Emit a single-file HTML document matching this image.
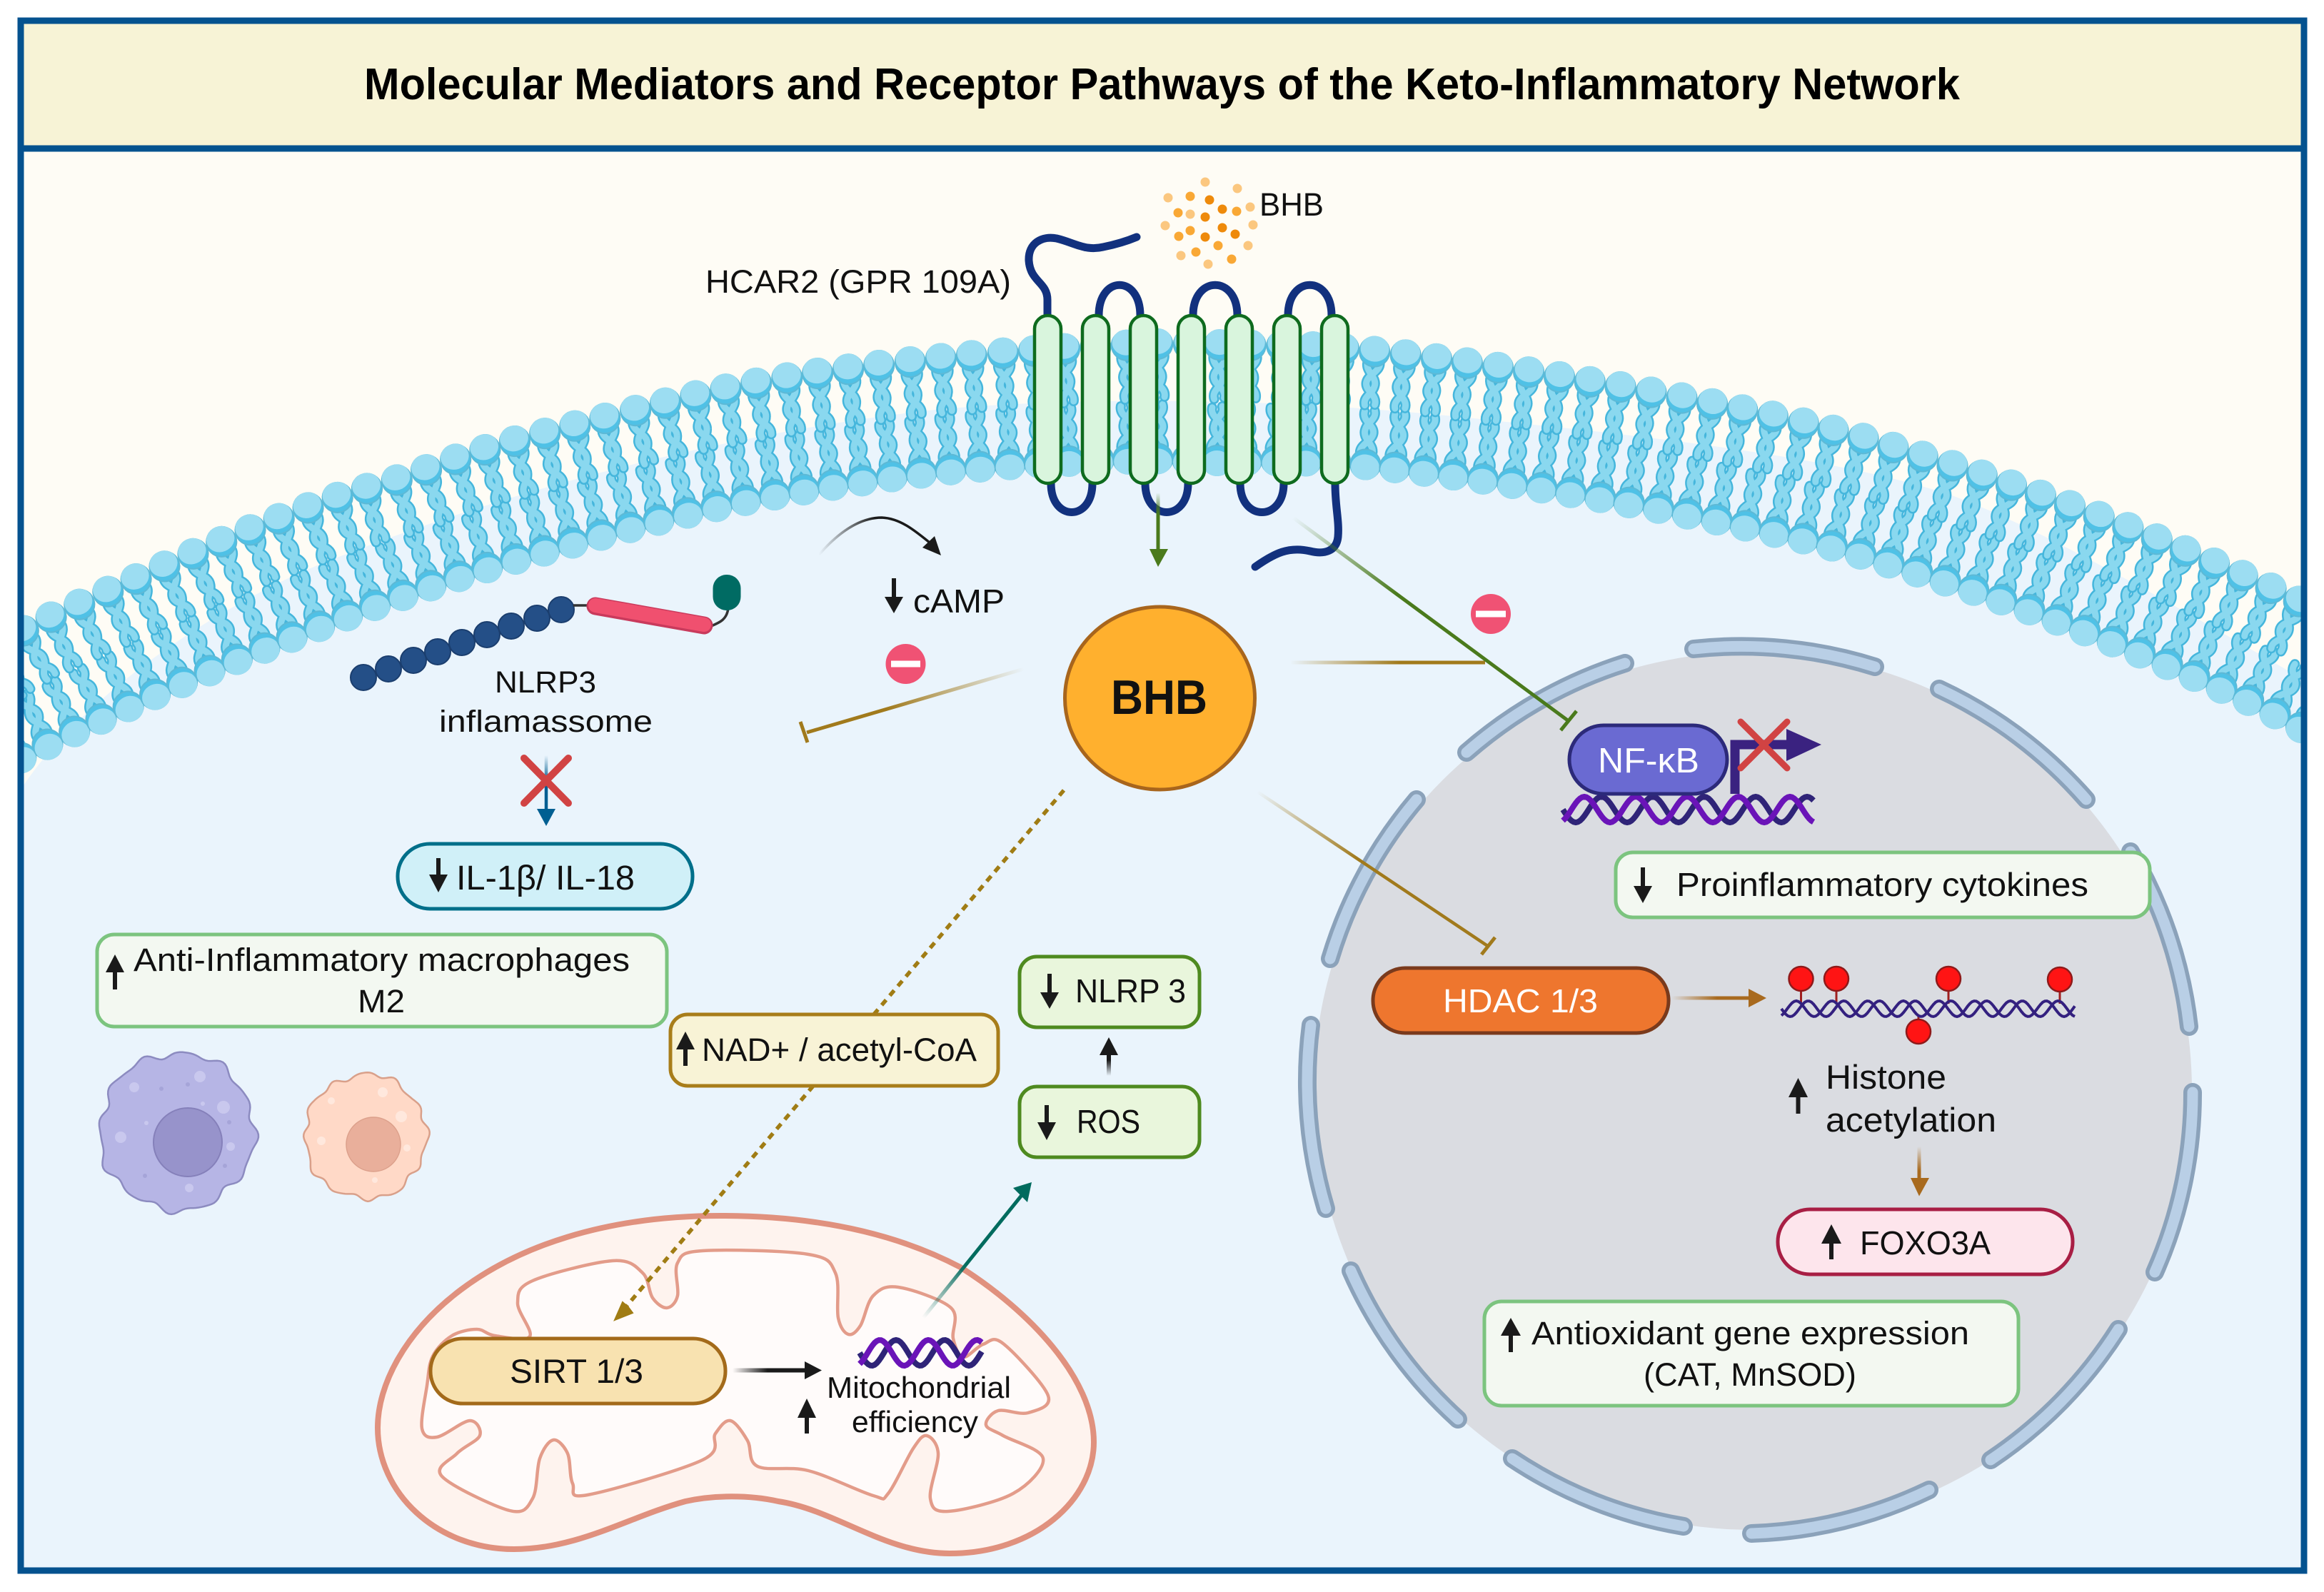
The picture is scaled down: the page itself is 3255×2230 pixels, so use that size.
<!DOCTYPE html>
<html lang="en">
<head>
<meta charset="utf-8">
<title>Molecular Mediators and Receptor Pathways of the Keto-Inflammatory Network</title>
<style>
html,body{margin:0;padding:0;background:#fff}
svg{display:block}
text{font-family:"Liberation Sans",sans-serif;fill:#111}
</style>
</head>
<body>
<svg xmlns="http://www.w3.org/2000/svg" width="3255" height="2230" viewBox="0 0 3255 2230">
<defs>
<clipPath id="frame"><rect x="33" y="210" width="3190" height="1986"/></clipPath>
<linearGradient id="g1" gradientUnits="userSpaceOnUse" x1="1434" y1="937" x2="1240" y2="993"><stop offset="0" stop-color="#A17A1C" stop-opacity="0"/><stop offset="1" stop-color="#A17A1C"/></linearGradient>
<linearGradient id="g2" gradientUnits="userSpaceOnUse" x1="1807" y1="928" x2="1960" y2="928"><stop offset="0" stop-color="#A17A1C" stop-opacity="0"/><stop offset="1" stop-color="#A17A1C"/></linearGradient>
<linearGradient id="g3" gradientUnits="userSpaceOnUse" x1="1761" y1="1109" x2="1900" y2="1205"><stop offset="0" stop-color="#A17A1C" stop-opacity="0"/><stop offset="1" stop-color="#A17A1C"/></linearGradient>
<linearGradient id="g4" gradientUnits="userSpaceOnUse" x1="1811" y1="725" x2="1950" y2="840"><stop offset="0" stop-color="#4A7A1C" stop-opacity="0"/><stop offset="1" stop-color="#4A7A1C"/></linearGradient>
<linearGradient id="g5" gradientUnits="userSpaceOnUse" x1="1293" y1="1846" x2="1345" y2="1765"><stop offset="0" stop-color="#006B5E" stop-opacity="0"/><stop offset="1" stop-color="#006B5E"/></linearGradient>
<linearGradient id="g6" gradientUnits="userSpaceOnUse" x1="1026" y1="0" x2="1075" y2="0"><stop offset="0" stop-color="#1a1a1a" stop-opacity="0"/><stop offset="1" stop-color="#1a1a1a"/></linearGradient>
<linearGradient id="g7" gradientUnits="userSpaceOnUse" x1="2341" y1="0" x2="2405" y2="0"><stop offset="0" stop-color="#A86A1E" stop-opacity="0"/><stop offset="1" stop-color="#A86A1E"/></linearGradient>
<linearGradient id="g8" gradientUnits="userSpaceOnUse" x1="0" y1="1606" x2="0" y2="1640"><stop offset="0" stop-color="#A86A1E" stop-opacity="0"/><stop offset="1" stop-color="#A86A1E"/></linearGradient>
<linearGradient id="g9" gradientUnits="userSpaceOnUse" x1="0" y1="690" x2="0" y2="720"><stop offset="0" stop-color="#4A7A1C" stop-opacity="0"/><stop offset="1" stop-color="#4A7A1C"/></linearGradient>
<linearGradient id="g10" gradientUnits="userSpaceOnUse" x1="0" y1="1058" x2="0" y2="1095"><stop offset="0" stop-color="#005F92" stop-opacity="0"/><stop offset="1" stop-color="#005F92"/></linearGradient>
<linearGradient id="g11" gradientUnits="userSpaceOnUse" x1="1147" y1="0" x2="1225" y2="0"><stop offset="0" stop-color="#1a1a1a" stop-opacity="0"/><stop offset="1" stop-color="#1a1a1a"/></linearGradient>
<linearGradient id="g12" gradientUnits="userSpaceOnUse" x1="0" y1="1507" x2="0" y2="1485"><stop offset="0" stop-color="#1a1a1a" stop-opacity="0"/><stop offset="1" stop-color="#1a1a1a"/></linearGradient>
<g id="lipid">
  <path d="M-7 14C-14 30 8 36 5 50C3 62-10 66-6 78" fill="none" stroke="#45B6DC" stroke-width="14" stroke-linecap="round"/>
  <path d="M8 14C14 28-6 34-7 46C-8 58 11 62 8 76" fill="none" stroke="#45B6DC" stroke-width="14" stroke-linecap="round"/>
  <path d="M-7 14C-14 30 8 36 5 50C3 62-10 66-6 78" fill="none" stroke="#8AD8EF" stroke-width="9" stroke-linecap="round"/>
  <path d="M8 14C14 28-6 34-7 46C-8 58 11 62 8 76" fill="none" stroke="#8AD8EF" stroke-width="9" stroke-linecap="round"/>
  <circle cx="0" cy="2" r="21" fill="#4FC1E6" stroke="#5DB9D6" stroke-width="2"/>
  <ellipse cx="0" cy="-2" rx="20" ry="18" fill="#9CDDF2"/>
</g>
</defs>

<!-- frame backgrounds -->
<rect x="29" y="29" width="3198" height="2171" fill="#FEFCF5"/>
<path d="M33 1100C110 985 280 860 449 790C700 690 1000 610 1300 575C1500 555 1800 555 2100 590C2400 620 2600 650 2731 693C2850 735 3050 850 3223 950L3223 2196L33 2196Z" fill="#EAF4FC"/>
<rect x="29" y="29" width="3198" height="179" fill="#F7F3D6"/>

<!-- membrane -->
<g id="lipids" clip-path="url(#frame)"></g>

<!-- receptor -->
<g fill="none" stroke="#12317E" stroke-width="11" stroke-linecap="round">
  <path d="M1467 442V420C1467 395 1443 395 1441 365C1440 340 1460 330 1480 334C1505 340 1520 352 1545 346C1565 342 1580 337 1592 332"/>
  <path d="M1539 442C1539 385 1597 385 1597 442"/>
  <path d="M1671 442C1671 385 1733 385 1733 442"/>
  <path d="M1804 442C1804 385 1865 385 1865 442"/>
  <path d="M1472 677C1472 731 1530 731 1530 677"/>
  <path d="M1604 677C1604 731 1664 731 1664 677"/>
  <path d="M1737 677C1737 731 1798 731 1798 677"/>
  <path d="M1870 677C1870 710 1876 730 1874 752C1872 772 1855 777 1835 772C1805 765 1785 775 1758 794"/>
</g>
<g fill="#D9F5DD" stroke="#0E6B1E" stroke-width="4.5">
  <rect x="1449" y="442" width="37" height="235" rx="18.5"/>
  <rect x="1516" y="442" width="37" height="235" rx="18.5"/>
  <rect x="1583" y="442" width="37" height="235" rx="18.5"/>
  <rect x="1650" y="442" width="37" height="235" rx="18.5"/>
  <rect x="1717" y="442" width="37" height="235" rx="18.5"/>
  <rect x="1784" y="442" width="37" height="235" rx="18.5"/>
  <rect x="1851" y="442" width="37" height="235" rx="18.5"/>
</g>

<!-- BHB particles -->
<g fill="#FBC77F">
  <circle cx="1688" cy="255" r="6.5"/><circle cx="1733" cy="264" r="6.5"/><circle cx="1636" cy="277" r="6.5"/><circle cx="1751" cy="290" r="6.5"/><circle cx="1667" cy="300" r="6.5"/><circle cx="1632" cy="316" r="6.5"/><circle cx="1755" cy="315" r="6.5"/><circle cx="1748" cy="344" r="6.5"/><circle cx="1654" cy="358" r="6.5"/><circle cx="1692" cy="370" r="6.5"/>
</g>
<g fill="#F9A835">
  <circle cx="1667" cy="275" r="6.5"/><circle cx="1650" cy="298" r="6.5"/><circle cx="1732" cy="296" r="6.5"/><circle cx="1667" cy="323" r="6.5"/><circle cx="1651" cy="331" r="6.5"/><circle cx="1706" cy="344" r="6.5"/><circle cx="1675" cy="353" r="6.5"/><circle cx="1725" cy="363" r="6.5"/>
</g>
<g fill="#EE8A0B">
  <circle cx="1694" cy="280" r="6.5"/><circle cx="1712" cy="293" r="6.5"/><circle cx="1688" cy="304" r="6.5"/><circle cx="1712" cy="319" r="6.5"/><circle cx="1730" cy="328" r="6.5"/><circle cx="1688" cy="332" r="6.5"/>
</g>

<!-- green arrow from receptor -->
<path d="M1622 691V772" stroke="url(#g9)" stroke-width="5" fill="none"/>
<path d="M1610 769H1636L1622 794Z" fill="#4A7A1C"/>

<!-- curved arrow -->
<path d="M1147 777C1175 745 1205 725 1235 725C1260 726 1280 742 1302 760" fill="none" stroke="url(#g11)" stroke-width="3.5"/>
<path d="M1318 778L1292 767L1309 751Z" fill="#1a1a1a"/>

<!-- nucleus -->
<circle cx="2455" cy="1528" r="615" fill="#DADCE1"/>
<g fill="none" stroke="#8BA2BA" stroke-width="26" stroke-linecap="round">
  <path d="M2372 909A624 624 0 0 1 2626 934"/>
  <path d="M2716 965A622 622 0 0 1 2922 1120"/>
  <path d="M2984 1193A622 622 0 0 1 3066 1438"/>
  <path d="M3071 1530A618 618 0 0 1 3018 1782"/>
  <path d="M2967 1862A618 618 0 0 1 2788 2045"/>
  <path d="M2702 2087A620 620 0 0 1 2453 2148"/>
  <path d="M2358 2138A618 618 0 0 1 2118 2043"/>
  <path d="M2042 1988A618 618 0 0 1 1892 1780"/>
  <path d="M1857 1693A622 622 0 0 1 1836 1436"/>
  <path d="M1863 1343A622 622 0 0 1 1984 1120"/>
  <path d="M2054 1054A622 622 0 0 1 2276 929"/>
</g>
<g fill="none" stroke="#B9CFE6" stroke-width="15" stroke-linecap="round">
  <path d="M2372 909A624 624 0 0 1 2626 934"/>
  <path d="M2716 965A622 622 0 0 1 2922 1120"/>
  <path d="M2984 1193A622 622 0 0 1 3066 1438"/>
  <path d="M3071 1530A618 618 0 0 1 3018 1782"/>
  <path d="M2967 1862A618 618 0 0 1 2788 2045"/>
  <path d="M2702 2087A620 620 0 0 1 2453 2148"/>
  <path d="M2358 2138A618 618 0 0 1 2118 2043"/>
  <path d="M2042 1988A618 618 0 0 1 1892 1780"/>
  <path d="M1857 1693A622 622 0 0 1 1836 1436"/>
  <path d="M1863 1343A622 622 0 0 1 1984 1120"/>
  <path d="M2054 1054A622 622 0 0 1 2276 929"/>
</g>

<!-- inhibition lines -->
<path d="M1434 937L1130 1026" stroke="url(#g1)" stroke-width="5" fill="none"/>
<path d="M1121 1011L1131 1040" stroke="#A17A1C" stroke-width="5" fill="none"/>
<path d="M1807 928H2080" stroke="url(#g2)" stroke-width="5" fill="none"/>
<path d="M1761 1109L2085 1326" stroke="url(#g3)" stroke-width="4.5" fill="none"/>
<path d="M2075 1337L2094 1313" stroke="#A17A1C" stroke-width="5" fill="none"/>
<path d="M1811 725L2197 1010" stroke="url(#g4)" stroke-width="5" fill="none"/>
<path d="M2186 1023L2208 996" stroke="#4A7A1C" stroke-width="5" fill="none"/>

<!-- minus signs -->
<circle cx="1268.5" cy="930" r="28" fill="#F05274"/><rect x="1248" y="925.5" width="41" height="9" fill="#fff"/>
<circle cx="2088" cy="860" r="28" fill="#F05274"/><rect x="2067" y="855.5" width="42" height="9" fill="#fff"/>

<!-- NLRP3 protein -->
<g fill="#244F87" stroke="#1B3E6E" stroke-width="2">
  <circle cx="509" cy="949" r="18"/><circle cx="544" cy="937" r="18"/><circle cx="579" cy="925" r="18"/><circle cx="613" cy="913" r="18"/><circle cx="647" cy="900" r="18"/><circle cx="682" cy="889" r="18"/><circle cx="716" cy="877" r="18"/><circle cx="752" cy="866" r="18"/><circle cx="786" cy="854" r="18"/>
</g>
<path d="M803 848H828M996 877C1008 872 1018 868 1020 852" fill="none" stroke="#333" stroke-width="3.5"/>
<path d="M834 849L986 876" stroke="#C93A5C" stroke-width="25" stroke-linecap="round"/>
<path d="M834 848L986 875" stroke="#F0506F" stroke-width="20" stroke-linecap="round"/>
<rect x="998.500" y="805" width="39" height="50" rx="19" fill="#006B63"/>

<text x="693" y="970" font-size="43" textLength="142" lengthAdjust="spacingAndGlyphs">NLRP3</text>
<text x="615" y="1025" font-size="43" textLength="299" lengthAdjust="spacingAndGlyphs">inflamassome</text>

<!-- blocked arrow -->
<path d="M765 1058V1136" stroke="url(#g10)" stroke-width="4.5" fill="none"/>
<path d="M752 1133H778L765 1157Z" fill="#005F92"/>
<path d="M734 1062L796 1125M796 1062L734 1125" stroke="#D14343" stroke-width="10" stroke-linecap="round" fill="none"/>

<!-- IL pill -->
<rect x="557" y="1182" width="413" height="91" rx="45" fill="#D0F0F8" stroke="#006F8A" stroke-width="5"/>
<text x="639" y="1246" font-size="48" textLength="250" lengthAdjust="spacingAndGlyphs">IL-1β/ IL-18</text>

<!-- Anti-inflammatory -->
<rect x="136" y="1309" width="798" height="129" rx="24" fill="#F3F8F1" stroke="#7CC47F" stroke-width="5"/>
<text x="187" y="1360" font-size="45" textLength="695" lengthAdjust="spacingAndGlyphs">Anti-Inflammatory macrophages</text>
<text x="501" y="1418" font-size="45" textLength="66" lengthAdjust="spacingAndGlyphs">M2</text>

<!-- macrophages -->
<path id="blob1" fill="#B6B5E5" stroke="#8C8BC0" stroke-width="2.5"/>
<ellipse cx="263" cy="1600" rx="48" ry="48" fill="#9793CB" stroke="#8580BA" stroke-width="2"/>
<g fill="#C9C8EE">
  <circle cx="280" cy="1508" r="8"/><circle cx="188" cy="1523" r="7"/><circle cx="313" cy="1551" r="9"/><circle cx="169" cy="1593" r="8"/><circle cx="323" cy="1606" r="6"/><circle cx="265" cy="1664" r="6"/><circle cx="284" cy="1546" r="3"/><circle cx="205" cy="1573" r="3"/>
</g>
<g fill="#A5A4D8">
  <circle cx="226" cy="1525" r="3"/><circle cx="263" cy="1519" r="3"/><circle cx="321" cy="1572" r="3"/><circle cx="315" cy="1633" r="3"/><circle cx="203" cy="1647" r="3"/>
</g>
<path id="blob2" fill="#FFD9C7" stroke="#D9A08A" stroke-width="2.5"/>
<ellipse cx="523" cy="1603" rx="38" ry="38" fill="#E9AF9B" stroke="#DCA08B" stroke-width="1.5"/>
<g fill="#FFE8DD">
  <circle cx="536" cy="1530" r="7"/><circle cx="464" cy="1542" r="5"/><circle cx="562" cy="1564" r="8"/><circle cx="450" cy="1598" r="6"/><circle cx="570" cy="1608" r="5"/><circle cx="525" cy="1653" r="4"/>
</g>

<!-- mitochondrion -->
<path d="M1009 1703C1135 1703 1250 1725 1345 1775C1440 1835 1532 1930 1532 2020C1532 2100 1450 2176 1330 2176C1240 2176 1170 2115 1090 2103C1050 2094 1000 2094 960 2103C880 2125 810 2170 720 2170C610 2170 529 2090 529 2000C529 1880 680 1703 1009 1703Z" fill="#FEF3EE" stroke="#E0917E" stroke-width="8"/>
<path id="inner" fill="#FFFBFA" stroke="#E39C8A" stroke-width="4.5"/>

<!-- dotted line -->
<path d="M1490 1107L878 1829" fill="none" stroke="#A07C14" stroke-width="5.5" stroke-dasharray="9.5 8"/>
<path d="M861 1849L886 1839L880 1831L872 1824Z" fill="#A07C14" stroke="#A07C14" stroke-width="2"/>

<!-- teal arrow -->
<path d="M1293 1846L1436 1668" fill="none" stroke="url(#g5)" stroke-width="5"/>
<path d="M1445 1656L1419 1664L1439 1684Z" fill="#006B5E"/>

<!-- SIRT -->
<rect x="603" y="1875" width="413" height="91" rx="45" fill="#F8E2B0" stroke="#A36A1A" stroke-width="5"/>
<text x="714" y="1937" font-size="47" textLength="187" lengthAdjust="spacingAndGlyphs">SIRT 1/3</text>
<path d="M1026 1919.500H1130" stroke="url(#g6)" stroke-width="6" fill="none"/>
<path d="M1127 1907L1151 1919.500L1127 1932Z" fill="#1a1a1a"/>
<g id="dnaM"></g>
<text x="1158" y="1958" font-size="42" textLength="258" lengthAdjust="spacingAndGlyphs">Mitochondrial</text>
<text x="1193" y="2006" font-size="42" textLength="177" lengthAdjust="spacingAndGlyphs">efficiency</text>

<!-- BHB node -->
<ellipse cx="1624.500" cy="978" rx="133" ry="128" fill="#FFB02E" stroke="#A8651C" stroke-width="5"/>
<text x="1556" y="1000" font-size="68" font-weight="bold" textLength="135" lengthAdjust="spacingAndGlyphs">BHB</text>

<!-- middle boxes -->
<rect x="939" y="1421" width="459" height="100" rx="24" fill="#F8F3D6" stroke="#A87D1A" stroke-width="5"/>
<text x="983" y="1486" font-size="45" textLength="385" lengthAdjust="spacingAndGlyphs">NAD+ / acetyl-CoA</text>
<rect x="1428" y="1340" width="252" height="99" rx="24" fill="#E9F6DC" stroke="#4E8A1F" stroke-width="5"/>
<text x="1506" y="1404" font-size="46" textLength="155" lengthAdjust="spacingAndGlyphs">NLRP 3</text>
<rect x="1428" y="1522" width="252" height="99" rx="24" fill="#E9F6DC" stroke="#4E8A1F" stroke-width="5"/>
<text x="1508" y="1587" font-size="46" textLength="89" lengthAdjust="spacingAndGlyphs">ROS</text>
<path d="M1553 1507V1475" stroke="url(#g12)" stroke-width="6" fill="none"/>
<path d="M1553 1453L1566 1478H1540Z" fill="#1a1a1a"/>

<text x="1279" y="858" font-size="46" textLength="128" lengthAdjust="spacingAndGlyphs">cAMP</text>

<!-- NF-kB -->
<g id="dnaN"></g>
<path d="M2430 1112V1043H2505" fill="none" stroke="#3A2280" stroke-width="13"/>
<path d="M2502 1021L2551 1043L2502 1066Z" fill="#3A2280"/>
<rect x="2198" y="1016" width="221" height="96" rx="48" fill="#6A6AD2" stroke="#2C2A7A" stroke-width="5"/>
<text x="2238" y="1082" font-size="49" style="fill:#fff" textLength="142" lengthAdjust="spacingAndGlyphs">NF-κB</text>
<path d="M2438 1011L2503 1076M2503 1011L2438 1076" stroke="#D14343" stroke-width="9" stroke-linecap="round" fill="none"/>

<!-- Proinflammatory -->
<rect x="2263" y="1194" width="748" height="91" rx="24" fill="#F3F8F1" stroke="#7CC47F" stroke-width="5"/>
<text x="2348" y="1255" font-size="46" textLength="577" lengthAdjust="spacingAndGlyphs">Proinflammatory cytokines</text>

<!-- HDAC -->
<rect x="1923" y="1356" width="414" height="91" rx="45" fill="#EE762E" stroke="#7A3A1C" stroke-width="5"/>
<text x="2021" y="1418" font-size="46" style="fill:#fff" textLength="217" lengthAdjust="spacingAndGlyphs">HDAC 1/3</text>
<path d="M2341 1398H2452" stroke="url(#g7)" stroke-width="5" fill="none"/>
<path d="M2449 1385L2474 1398L2449 1411Z" fill="#A86A1E"/>

<!-- histone DNA -->
<g stroke="#A02020" stroke-width="3">
  <path d="M2522.500 1386V1406M2572 1386V1406M2729 1386V1406M2885 1387V1406M2687 1424V1432"/>
</g>
<g id="dnaH"></g>
<g fill="#FF1414" stroke="#8E1A1A" stroke-width="2.5">
  <circle cx="2522.500" cy="1371" r="17"/><circle cx="2572" cy="1371" r="17"/><circle cx="2729" cy="1371" r="17"/><circle cx="2885" cy="1372" r="17"/><circle cx="2687" cy="1445" r="17"/>
</g>
<text x="2557" y="1525" font-size="47" textLength="169" lengthAdjust="spacingAndGlyphs">Histone</text>
<text x="2557" y="1585" font-size="47" textLength="239" lengthAdjust="spacingAndGlyphs">acetylation</text>
<path d="M2688 1606V1652" stroke="url(#g8)" stroke-width="5" fill="none"/>
<path d="M2676 1650H2702L2688 1675.500Z" fill="#A86A1E"/>

<!-- FOXO3A -->
<rect x="2490" y="1694" width="413" height="91" rx="45" fill="#FDE5EC" stroke="#A81E44" stroke-width="5"/>
<text x="2605" y="1757" font-size="46" textLength="183" lengthAdjust="spacingAndGlyphs">FOXO3A</text>

<!-- Antioxidant -->
<rect x="2079" y="1823" width="748" height="146" rx="24" fill="#F3F8F1" stroke="#7CC47F" stroke-width="5"/>
<text x="2145" y="1883" font-size="45" textLength="613" lengthAdjust="spacingAndGlyphs">Antioxidant gene expression</text>
<text x="2302" y="1941" font-size="45" textLength="298" lengthAdjust="spacingAndGlyphs">(CAT, MnSOD)</text>

<!-- small black arrows -->
<g fill="#1a1a1a">
  <path d="M161 1337L174 1362H164V1386H158V1362H148Z"/>
  <path d="M960 1445L973 1470H963V1493H957V1470H947Z"/>
  <path d="M1130 1959L1143 1986H1133V2008H1127V1986H1117Z"/>
  <path d="M2518.500 1510L2532 1537H2521.500V1560H2515.500V1537H2505Z"/>
  <path d="M2565 1715L2579 1742H2568V1764H2562V1742H2551Z"/>
  <path d="M2116 1846L2130 1871H2119V1894H2113V1871H2102Z"/>
  <path d="M1252 859L1265 836H1255V810H1249V836H1239Z"/>
  <path d="M614 1250L627 1225H617V1202H611V1225H601Z"/>
  <path d="M1470 1413L1483 1390H1473V1364H1467V1390H1457Z"/>
  <path d="M1466 1597L1479 1572H1469V1548H1463V1572H1453Z"/>
  <path d="M2301 1265L2314 1241H2304V1215H2298V1241H2288Z"/>
</g>

<!-- labels at top -->
<text x="1764" y="302" font-size="45" textLength="90" lengthAdjust="spacingAndGlyphs">BHB</text>
<text x="988" y="410" font-size="45" textLength="428" lengthAdjust="spacingAndGlyphs">HCAR2 (GPR 109A)</text>

<!-- frame + title -->
<rect x="29" y="29" width="3198" height="2171" fill="none" stroke="#04528F" stroke-width="9"/>
<path d="M29 208H3227" stroke="#04528F" stroke-width="9" fill="none"/>
<text x="510" y="139" font-size="62" font-weight="bold" style="fill:#000" textLength="2235" lengthAdjust="spacingAndGlyphs">Molecular Mediators and Receptor Pathways of the Keto-Inflammatory Network</text>
</svg>

<script>
(function(){
var NS="http://www.w3.org/2000/svg";
function el(n,a){var e=document.createElementNS(NS,n);for(var k in a)e.setAttribute(k,a[k]);return e;}
function crPath(p,closed){
  var n=p.length,d="M"+p[0][0]+" "+p[0][1],m=closed?n:n-1;
  for(var i=0;i<m;i++){
    var p0=closed?p[(i-1+n)%n]:p[Math.max(i-1,0)],p1=p[i%n],p2=p[(i+1)%n],p3=closed?p[(i+2)%n]:p[Math.min(i+2,n-1)];
    d+="C"+(p1[0]+(p2[0]-p0[0])/6).toFixed(1)+" "+(p1[1]+(p2[1]-p0[1])/6).toFixed(1)+" "+(p2[0]-(p3[0]-p1[0])/6).toFixed(1)+" "+(p2[1]-(p3[1]-p1[1])/6).toFixed(1)+" "+p2[0]+" "+p2[1];
  }
  return d+(closed?"Z":"");
}
function dense(p){
  var out=[];
  for(var i=0;i<p.length-1;i++){
    var p0=p[Math.max(i-1,0)],p1=p[i],p2=p[i+1],p3=p[Math.min(i+2,p.length-1)];
    for(var j=0;j<400;j++){
      var t=j/400,t2=t*t,t3=t2*t,q=[0,1].map(function(c){
        return .5*(2*p1[c]+(p2[c]-p0[c])*t+(2*p0[c]-5*p1[c]+4*p2[c]-p3[c])*t2+(3*p1[c]-p0[c]-3*p2[c]+p3[c])*t3);});
      out.push(q);
    }
  }
  out.push(p[p.length-1]);
  return out;
}
function place(pts,step,flip,g){
  var q=dense(pts),acc=0,next=0;
  for(var i=1;i<q.length-30;i++){
    var dx=q[i][0]-q[i-1][0],dy=q[i][1]-q[i-1][1];
    acc+=Math.sqrt(dx*dx+dy*dy);
    if(acc>=next){
      next+=step;
      var a=q[Math.min(i+30,q.length-1)],b=q[Math.max(i-30,0)];
      var ang=Math.atan2(a[1]-b[1],a[0]-b[0])*180/Math.PI+(flip?180:0);
      var u=el("use",{transform:"translate("+q[i][0].toFixed(1)+" "+q[i][1].toFixed(1)+") rotate("+ang.toFixed(1)+")"});
      u.setAttribute("href","#lipid");
      g.appendChild(u);
    }
  }
}
var top=[[-5,905],[35,880],[68,864],[307,758],[469,696],[551,672],[676,629],[800,596],[1053,536],[1313,501],[1572,482],[1702,481],[1920,490],[2240,535],[2518,589],[2685,635],[2850,689],[3013,750],[3172,818],[3260,860]];
var bot=[[-5,1085],[62,1047],[290,943],[561,837],[800,763],[1053,701],[1329,660],[1572,645],[1702,647],[1907,652],[2220,695],[2519,755],[2679,801],[2837,854],[2991,914],[3145,981],[3217,1018],[3260,1040]];
var L=document.getElementById("lipids");
place(bot,41.5,true,L);
place(top,43.5,false,L);

function blob(cx,cy,rx,ry,s){
  var d="",N=180;
  for(var i=0;i<N;i++){
    var t=i/N*2*Math.PI,r=1+.035*Math.sin(12*t+s)+.012*Math.sin(19*t+2*s)+.02*Math.sin(5*t+s);
    d+=(i?"L":"M")+(cx+rx*r*Math.cos(t)).toFixed(1)+" "+(cy+ry*r*Math.sin(t)).toFixed(1);
  }
  return d+"Z";
}
document.getElementById("blob1").setAttribute("d",blob(248,1585,108,110,.6));
document.getElementById("blob2").setAttribute("d",blob(512,1592,85,87,1.9));

var inner=[[742,1872],[725,1825],[746,1794],[858,1766],[900,1783],[914,1818],[934,1832],[949,1815],[949,1769],[984,1752],[1132,1757],[1170,1783],[1174,1846],[1188,1869],[1205,1857],[1223,1815],[1258,1803],[1332,1832],[1335,1875],[1349,1901],[1377,1883],[1405,1882],[1468,1955],[1440,1979],[1398,1976],[1381,1996],[1405,2011],[1461,2043],[1419,2092],[1328,2117],[1303,2099],[1314,2036],[1298,2011],[1279,2029],[1244,2092],[1223,2095],[1132,2060],[1061,2054],[1047,2018],[1023,1990],[1002,2008],[984,2045],[823,2094],[802,2078],[795,2036],[775,2017],[756,2043],[746,2099],[714,2116],[619,2068],[640,2036],[672,2011],[658,1990],[612,2013],[591,2001],[598,1941],[606,1900],[633,1871],[668,1862],[693,1871]];
document.getElementById("inner").setAttribute("d",crPath(inner,true));

function dna(id,x0,x1,yc,amp,per,w,c1,c2){
  var g=document.getElementById(id),a="",b="",ph=2.1;
  for(var x=x0;x<=x1;x+=3){
    var t=(x-x0)/per*2*Math.PI;
    a+=(x==x0?"M":"L")+x+" "+(yc+amp*Math.sin(t)).toFixed(1);
    b+=(x==x0?"M":"L")+x+" "+(yc+amp*Math.sin(t+ph)).toFixed(1);
  }
  g.appendChild(el("path",{d:a,fill:"none",stroke:c1,"stroke-width":w}));
  g.appendChild(el("path",{d:b,fill:"none",stroke:c2,"stroke-width":w}));
}
dna("dnaM",1204,1376,1895,18,68,8,"#2F2478","#6A14B8");
dna("dnaN",2189,2541,1134,18,72,8,"#2F2478","#6A14B8");
dna("dnaH",2495,2907,1413,11,50,4,"#33207F","#33207F");
})();
</script>
</body>
</html>
